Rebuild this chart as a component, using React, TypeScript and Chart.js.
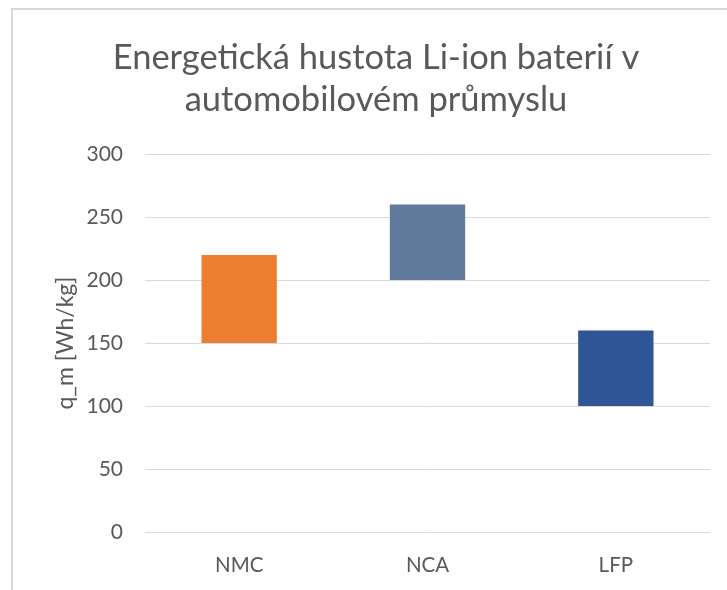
import React, { useEffect, useRef } from "react";
import { Chart, registerables } from "chart.js";

Chart.register(...registerables);

const titleLines = ["Energetická hustota Li-ion baterií v", "automobilovém průmyslu"];
const yAxisTitle = "q_m [Wh/kg]";
const categories = ["NMC", "NCA", "LFP"];
const lowValues = [150, 200, 100];
const highValues = [220, 260, 160];
const barColors = ["#ED7D31", "#627B9C", "#2F5597"];
const yMin = 0;
const yMax = 300;
const yStep = 50;

const FONT = "Lato, 'Open Sans', sans-serif";
const TEXT = "#595959";

export default function App() {
  const ref = useRef<HTMLCanvasElement | null>(null);

  useEffect(() => {
    if (!ref.current) return;
    const chart = new Chart(ref.current, {
      type: "bar",
      data: {
        labels: categories,
        datasets: [
          {
            data: categories.map((_, i) => [lowValues[i], highValues[i]]) as any,
            backgroundColor: barColors,
            borderWidth: 0,
            categoryPercentage: 1,
            barPercentage: 0.4,
          },
        ],
      },
      options: {
        animation: false,
        responsive: false,
        maintainAspectRatio: false,
        devicePixelRatio: 1,
        layout: { padding: { left: 42, right: 17, top: 0, bottom: 0 } },
        plugins: {
          legend: { display: false },
          tooltip: { enabled: false },
          title: {
            display: true,
            text: titleLines,
            color: TEXT,
            font: { family: FONT, size: 34.5, weight: "normal", lineHeight: 1.22 },
            padding: { top: 37, bottom: 33 },
          },
        },
        scales: {
          x: {
            grid: { display: false, drawTicks: false },
            border: { display: false },
            ticks: {
              color: TEXT,
              font: { family: FONT, size: 20.5 },
              padding: 21,
            },
            afterFit: (s: any) => {
              s.height = 58;
            },
          },
          y: {
            min: yMin,
            max: yMax,
            grid: { color: "#d9d9d9", lineWidth: 1, drawTicks: false },
            border: { display: false },
            ticks: {
              stepSize: yStep,
              color: TEXT,
              font: { family: FONT, size: 21 },
              padding: 22,
            },
            title: {
              display: true,
              text: yAxisTitle,
              color: TEXT,
              font: { family: FONT, size: 23, lineHeight: 1.2 },
              padding: { top: 10, bottom: 0 },
            },
            afterFit: (s: any) => {
              s.width = 103;
            },
          },
        },
      },
    });
    return () => chart.destroy();
  }, []);

  return (
    <div style={{ position: "absolute", left: 0, top: 0, width: 727, height: 590, background: "#fff", overflow: "hidden" }}>
      <div
        style={{
          position: "absolute",
          left: 11,
          top: 8,
          width: 760,
          height: 640,
          borderTop: "2px solid #d9d9d9",
          borderLeft: "2px solid #d9d9d9",
          boxSizing: "border-box",
        }}
      />
      <canvas ref={ref} width={727} height={590} style={{ position: "absolute", left: 0, top: 0, width: 727, height: 590 }} />
    </div>
  );
}
